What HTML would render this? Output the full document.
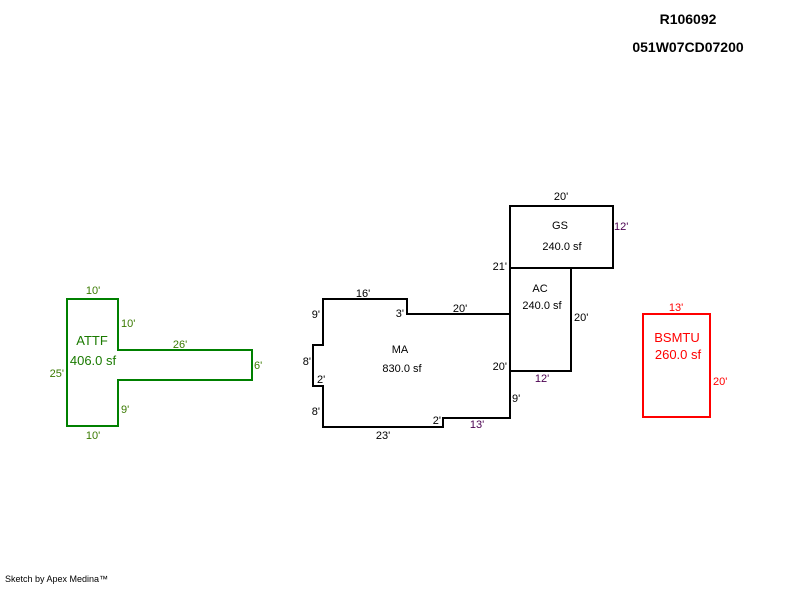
<!DOCTYPE html>
<html><head><style>
body{margin:0;background:#fff;}
svg text{font-family:"Liberation Sans",Arial,sans-serif;}
</style></head><body>
<svg width="800" height="587" viewBox="0 0 800 587" xmlns="http://www.w3.org/2000/svg">
<rect width="800" height="587" fill="#fff"/>
<text x="688" y="24" font-size="14" font-weight="bold" text-anchor="middle">R106092</text>
<text x="688" y="52" font-size="14" font-weight="bold" text-anchor="middle">051W07CD07200</text>
<g fill="none" stroke-width="2">
<path d="M67 299H118V350H252V380H118V426H67Z" stroke="#008000"/>
<path d="M323 299H407V314H510V418H443V427H323V386H313V345H323Z" stroke="#000"/>
<rect x="510" y="268" width="61" height="103" stroke="#000"/>
<rect x="510" y="206" width="103" height="62" stroke="#000"/>
<rect x="643" y="314" width="67" height="103" stroke="#f00"/>
</g>
<g font-size="11" fill="#3a7a00">
<text x="93" y="294" text-anchor="middle">10'</text>
<text x="121" y="327">10'</text>
<text x="180" y="348" text-anchor="middle">26'</text>
<text x="254" y="369">6'</text>
<text x="64" y="377" text-anchor="end">25'</text>
<text x="121" y="413">9'</text>
<text x="93" y="439" text-anchor="middle">10'</text>
</g>
<text x="92" y="345" font-size="13" fill="#1a7a00" text-anchor="middle">ATTF</text>
<text x="93" y="365" font-size="13" fill="#1a7a00" text-anchor="middle">406.0 sf</text>
<g font-size="11" fill="#000">
<text x="363" y="297" text-anchor="middle">16'</text>
<text x="320" y="318" text-anchor="end">9'</text>
<text x="404" y="317" text-anchor="end">3'</text>
<text x="460" y="312" text-anchor="middle">20'</text>
<text x="311" y="365" text-anchor="end">8'</text>
<text x="317" y="383">2'</text>
<text x="320" y="415" text-anchor="end">8'</text>
<text x="441" y="424" text-anchor="end">2'</text>
<text x="383" y="439" text-anchor="middle">23'</text>
<text x="512" y="402">9'</text>
<text x="507" y="370" text-anchor="end">20'</text>
<text x="507" y="270" text-anchor="end">21'</text>
<text x="561" y="200" text-anchor="middle">20'</text>
<text x="574" y="321">20'</text>
<text x="400" y="353" text-anchor="middle">MA</text>
<text x="402" y="372" text-anchor="middle">830.0 sf</text>
<text x="540" y="292" text-anchor="middle">AC</text>
<text x="542" y="309" text-anchor="middle">240.0 sf</text>
<text x="560" y="229" text-anchor="middle">GS</text>
<text x="562" y="250" text-anchor="middle">240.0 sf</text>
</g>
<g font-size="11" fill="#4a0050">
<text x="614" y="230">12'</text>
<text x="542" y="382" text-anchor="middle">12'</text>
<text x="477" y="428" text-anchor="middle">13'</text>
</g>
<g fill="#f00">
<text x="676" y="311" font-size="11" text-anchor="middle">13'</text>
<text x="713" y="385" font-size="11">20'</text>
<text x="677" y="342" font-size="13" text-anchor="middle">BSMTU</text>
<text x="678" y="359" font-size="13" text-anchor="middle">260.0 sf</text>
</g>
<text x="5" y="582" font-size="9" fill="#000">Sketch by Apex Medina™</text>
</svg>
</body></html>
